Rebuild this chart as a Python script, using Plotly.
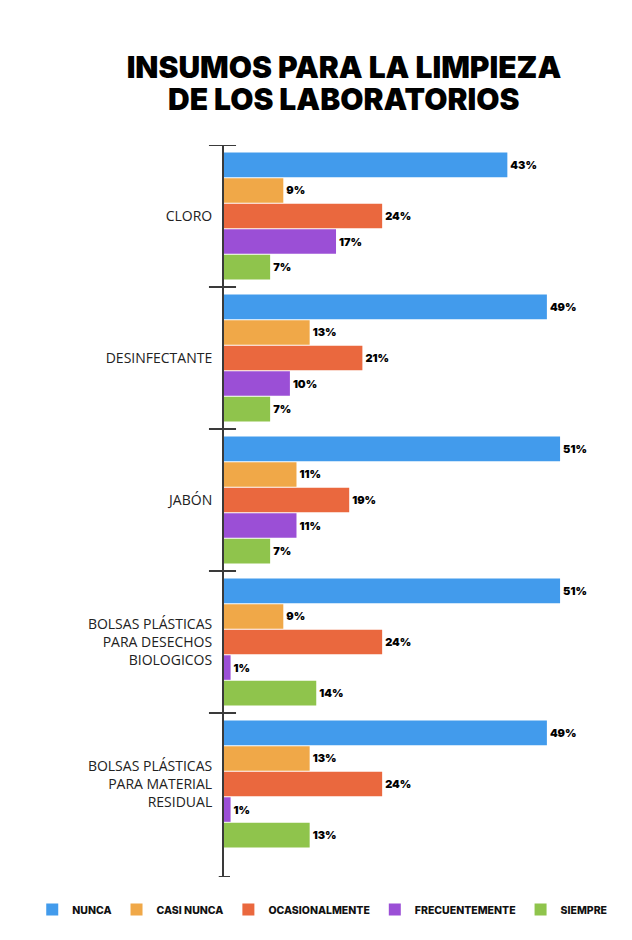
import plotly.graph_objects as go

# datos
insumos = ["CLORO", "DESINFECTANTE", "JABÓN",
           "BOLSAS PLÁSTICAS<br>PARA DESECHOS<br>BIOLOGICOS",
           "BOLSAS PLÁSTICAS<br>PARA MATERIAL<br>RESIDUAL"]
respuestas = ["NUNCA", "CASI NUNCA", "OCASIONALMENTE", "FRECUENTEMENTE", "SIEMPRE"]

nunca = [43, 49, 51, 51, 49]
casi_nunca = [9, 13, 11, 9, 13]
ocasionalmente = [24, 21, 19, 24, 24]
frecuentemente = [17, 10, 11, 1, 1]
siempre = [7, 7, 7, 14, 13]

valores = [nunca, casi_nunca, ocasionalmente, frecuentemente, siempre]
colores = ["#429BEC", "#F0A848", "#EA683E", "#9B4FD6", "#8FC44C"]

titulo_fuente = dict(family="Inter", size=30, color="#000000", weight=900)

fig = go.Figure()

for nombre, vals, color in zip(respuestas, valores, colores):
    fig.add_trace(go.Bar(
        y=insumos,
        x=vals,
        name=nombre,
        orientation="h",
        marker=dict(color=color, line=dict(width=0)),
        texttemplate="%{x}%",
        textposition="outside",
        textfont=dict(family="Inter", size=11, color="#000000", weight=900),
        cliponaxis=False,
    ))

y_fin = len(insumos) - 0.345

# marcas de separacion en el eje
shapes = []
for i in range(len(insumos)):
    shapes.append(dict(type="line", xref="x domain", yref="y",
                       x0=-0.04, x1=0.032, y0=i - 0.5, y1=i - 0.5,
                       line=dict(color="#3a3a3a", width=2)))
shapes.append(dict(type="line", xref="x domain", yref="y",
                   x0=-0.014, x1=0.016, y0=y_fin, y1=y_fin,
                   line=dict(color="#3a3a3a", width=2)))

fig.update_layout(
    width=632,
    height=940,
    paper_bgcolor="white",
    plot_bgcolor="white",
    margin=dict(l=216, r=40, t=137, b=71),
    barmode="group",
    bargap=0.1,
    bargroupgap=0.04,
    title=dict(
        text="INSUMOS PARA LA LIMPIEZA",
        x=0.5316, xanchor="center", xref="container",
        y=0.9477, yanchor="top", yref="container",
        font=titulo_fuente,
    ),
    xaxis=dict(range=[0, 57.06], visible=False, showgrid=False, zeroline=False),
    yaxis=dict(
        range=[y_fin, -0.5],
        showline=True, linecolor="#3a3a3a", linewidth=2,
        ticks="", ticklabelstandoff=7,
        showgrid=False, zeroline=False,
        tickfont=dict(family="Open Sans", size=14, color="#222222"),
    ),
    legend=dict(
        orientation="h",
        x=-0.51, xanchor="left",
        y=-0.0245, yanchor="top",
        traceorder="normal",
        font=dict(family="Inter", size=10.5, color="#111111", weight=800),
        itemwidth=30,
    ),
    shapes=shapes,
)

fig.add_annotation(
    text="DE LOS LABORATORIOS",
    xref="paper", yref="paper",
    x=0.319, y=1.0629, xanchor="center", yanchor="middle",
    showarrow=False,
    font=titulo_fuente,
)

fig.write_html("out.html")
